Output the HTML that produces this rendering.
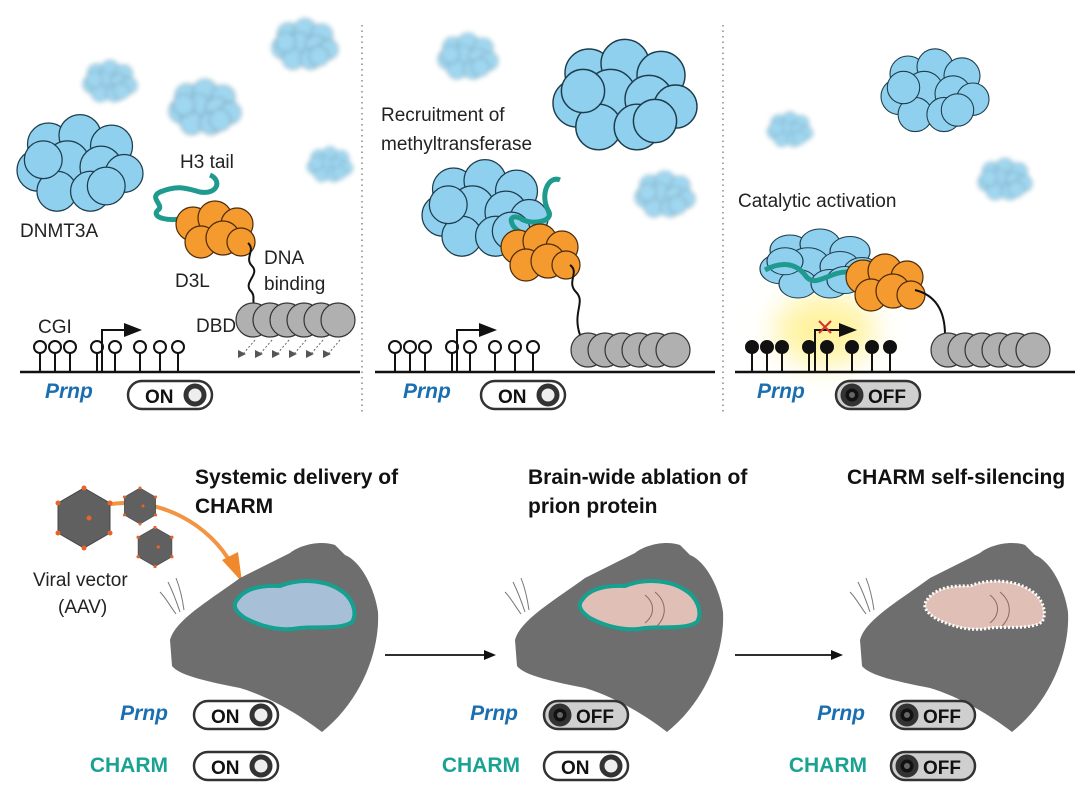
<!DOCTYPE html>
<html><head><meta charset="utf-8"><style>
body{margin:0;background:#fff}
svg{display:block}
text{font-family:"Liberation Sans",sans-serif}
.lb{font-size:19px;fill:#222}
.bt{font-size:21px;font-weight:bold;fill:#111}
.sw{font-size:19px;font-weight:bold;fill:#111}
</style></head><body>
<svg width="1080" height="806" viewBox="0 0 1080 806" xmlns="http://www.w3.org/2000/svg">
<defs>
<filter id="bl" x="-30%" y="-30%" width="160%" height="160%"><feGaussianBlur stdDeviation="2.5"/></filter>
<filter id="gl" x="-50%" y="-50%" width="200%" height="200%"><feGaussianBlur stdDeviation="14"/></filter>
<g id="cl" fill="#8fd0ee" stroke="#1d3d4d" stroke-width="1.2">
<circle cx="-30" cy="-20" r="20"/><circle cx="0" cy="-28" r="20"/><circle cx="30" cy="-18" r="20"/>
<circle cx="-40" cy="5" r="20"/><circle cx="-12" cy="-2" r="21"/><circle cx="20" cy="2" r="20"/><circle cx="42" cy="8" r="18"/>
<circle cx="-22" cy="25" r="19"/><circle cx="10" cy="25" r="19"/><circle cx="-35" cy="-5" r="18"/><circle cx="25" cy="20" r="18"/>
</g>
<g id="or" fill="#f59a2e" stroke="#4a2a08" stroke-width="1.2">
<circle cx="-22" cy="-8" r="17"/><circle cx="0" cy="-14" r="17"/><circle cx="22" cy="-8" r="16"/>
<circle cx="-14" cy="10" r="16"/><circle cx="8" cy="6" r="17"/><circle cx="26" cy="10" r="14"/>
</g>
<g id="dbd" fill="#b0b0b0" stroke="#333" stroke-width="1.2">
<circle cx="0" cy="0" r="17"/><circle cx="17" cy="0" r="17"/><circle cx="34" cy="0" r="17"/><circle cx="51" cy="0" r="17"/><circle cx="68" cy="0" r="17"/><circle cx="85" cy="0" r="17"/>
</g>
<g id="lo" stroke="#111" stroke-width="2" fill="#fff">
<path d="M0 0V-20M15 0V-20M30 0V-20M57 0V-20M75 0V-20M100 0V-20M120 0V-20M138 0V-20" fill="none"/>
<circle cx="0" cy="-25" r="6"/><circle cx="15" cy="-25" r="6"/><circle cx="30" cy="-25" r="6"/><circle cx="57" cy="-25" r="6"/><circle cx="75" cy="-25" r="6"/><circle cx="100" cy="-25" r="6"/><circle cx="120" cy="-25" r="6"/><circle cx="138" cy="-25" r="6"/>
</g>
<g id="on"><rect x="1" y="1" width="84" height="28" rx="14" fill="#fff" stroke="#333" stroke-width="2.5"/><text x="18" y="23" class="sw">ON</text><circle cx="68" cy="15" r="9" fill="#eee" stroke="#333" stroke-width="5"/></g>
<g id="off"><rect x="1" y="1" width="84" height="28" rx="14" fill="#cfcfcf" stroke="#333" stroke-width="2.5"/><circle cx="17" cy="15" r="9" fill="#111" stroke="#333" stroke-width="5"/><circle cx="17" cy="15" r="3" fill="#666"/><text x="33" y="23" class="sw">OFF</text></g>
<g id="ms"><path d="M170 640C175 620 210 600 240 578L290 553C300 545 320 540 335 545L345 555C362 562 375 590 378 612C380 650 362 700 322 732C300 715 270 697 240 688C210 682 180 676 172 666Z" fill="#6e6e6e"/>
<path d="M180 612C176 600 172 590 168 582M184 610C182 596 180 588 176 578M176 614C170 606 166 598 160 592" stroke="#777" stroke-width="1" fill="none"/></g>
<path id="br" d="M237 600C245 588 262 585 280 586C300 578 325 580 340 590C352 597 358 612 352 622C340 630 318 626 300 628C280 632 260 626 245 618C236 612 232 606 237 600Z"/>
<g id="hex"><polygon points="0,-30 26,-15 26,15 0,30 -26,15 -26,-15" fill="#606060" stroke="#444"/><g fill="#e8622a"><circle cx="0" cy="-30" r="2.5"/><circle cx="26" cy="-15" r="2.5"/><circle cx="26" cy="15" r="2.5"/><circle cx="0" cy="30" r="2.5"/><circle cx="-26" cy="15" r="2.5"/><circle cx="-26" cy="-15" r="2.5"/><circle cx="5" cy="0" r="2.5"/></g></g>
</defs>

<!-- dividers -->
<path d="M362 25V415M723 25V415" stroke="#888" stroke-width="1.5" stroke-dasharray="1.5 4"/>

<!-- Panel 1 -->
<g filter="url(#bl)" opacity="0.85">
<use href="#cl" transform="translate(110,82) scale(0.45)"/>
<use href="#cl" transform="translate(205,108) scale(0.6)"/>
<use href="#cl" transform="translate(305,45) scale(0.55)"/>
<use href="#cl" transform="translate(330,165) scale(0.38)"/>
</g>
<use href="#cl" transform="translate(80,165) scale(1.05)"/>
<text x="20" y="237" class="lb">DNMT3A</text>
<text x="180" y="168" class="lb">H3 tail</text>
<path d="M210 175C222 180 218 195 200 192C185 188 178 185 160 192C148 198 165 205 158 210C150 218 170 222 186 218" fill="none" stroke="#1f9a8e" stroke-width="5"/>
<use href="#or" transform="translate(215,232)"/>
<path d="M248 243C256 250 244 258 252 266C260 274 244 282 250 290C256 296 252 300 254 304" fill="none" stroke="#111" stroke-width="2"/>
<text x="175" y="287" class="lb">D3L</text>
<text x="264" y="264" class="lb">DNA</text>
<text x="264" y="290" class="lb">binding</text>
<text x="196" y="332" class="lb">DBD</text>
<use href="#dbd" transform="translate(253,320)"/>
<g stroke="#666" stroke-width="1" stroke-dasharray="2 2" fill="#555">
<path d="M255 340L243 354M272 340L260 354M289 340L277 354M306 340L294 354M323 340L311 354M340 340L328 354"/>
</g>
<g fill="#555"><path d="M238 350l8 4-8 4z M255 350l8 4-8 4z M272 350l8 4-8 4z M289 350l8 4-8 4z M306 350l8 4-8 4z M323 350l8 4-8 4z"/></g>
<text x="38" y="333" class="lb">CGI</text>
<path d="M20 372H360" stroke="#111" stroke-width="2.5"/>
<use href="#lo" transform="translate(40,372)"/>
<path d="M102 372V330H125" stroke="#111" stroke-width="2" fill="none"/><path d="M124 323L142 330L124 337Z" fill="#111"/>
<text x="45" y="398" font-size="21" font-weight="bold" font-style="italic" fill="#1b6fb0">Prnp</text>
<use href="#on" transform="translate(127,380)"/>

<!-- Panel 2 -->
<g filter="url(#bl)" opacity="0.85">
<use href="#cl" transform="translate(468,57) scale(0.5)"/>
<use href="#cl" transform="translate(665,195) scale(0.5)"/>
</g>
<use href="#cl" transform="translate(625,97) scale(1.2)"/>
<text x="381" y="121" class="lb" font-size="20">Recruitment of</text>
<text x="381" y="150" class="lb" font-size="20">methyltransferase</text>
<use href="#cl" transform="translate(485,210) scale(1.05)"/>
<path d="M560 180C548 175 540 195 548 210C556 222 530 226 520 218C505 212 510 232 530 236" fill="none" stroke="#1f9a8e" stroke-width="5"/>
<use href="#or" transform="translate(540,255)"/>
<path d="M570 265C580 272 566 282 576 292C586 302 572 312 580 335" fill="none" stroke="#111" stroke-width="2"/>
<use href="#dbd" transform="translate(588,350)"/>
<path d="M375 372H715" stroke="#111" stroke-width="2.5"/>
<use href="#lo" transform="translate(395,372)"/>
<path d="M457 372V330H480" stroke="#111" stroke-width="2" fill="none"/><path d="M479 323L497 330L479 337Z" fill="#111"/>
<text x="403" y="398" font-size="21" font-weight="bold" font-style="italic" fill="#1b6fb0">Prnp</text>
<use href="#on" transform="translate(480,380)"/>

<!-- Panel 3 -->
<g filter="url(#bl)" opacity="0.85">
<use href="#cl" transform="translate(790,130) scale(0.38)"/>
<use href="#cl" transform="translate(1005,180) scale(0.45)"/>
</g>
<use href="#cl" transform="translate(935,92) scale(0.9)"/>
<text x="738" y="207" class="lb">Catalytic activation</text>
<ellipse cx="825" cy="330" rx="50" ry="35" fill="#fff3a0" filter="url(#gl)"/>
<use href="#cl" transform="translate(820,265) scale(1.0,0.75)"/>
<path d="M765 270C780 262 795 262 805 275C815 290 830 270 850 272" fill="none" stroke="#1f9a8e" stroke-width="5"/>
<use href="#or" transform="translate(885,285)"/>
<path d="M915 290C935 295 945 310 945 335" fill="none" stroke="#111" stroke-width="2"/>
<use href="#dbd" transform="translate(948,350)"/>
<path d="M735 372H1075" stroke="#111" stroke-width="2.5"/>
<g fill="#111"><use href="#lo" transform="translate(752,372)"/></g>
<g fill="#111"><circle cx="752" cy="347" r="6"/><circle cx="767" cy="347" r="6"/><circle cx="782" cy="347" r="6"/><circle cx="809" cy="347" r="6"/><circle cx="827" cy="347" r="6"/><circle cx="852" cy="347" r="6"/><circle cx="872" cy="347" r="6"/><circle cx="890" cy="347" r="6"/></g>
<path d="M815 372V330H840" stroke="#111" stroke-width="2" fill="none"/><path d="M839 323L857 330L839 337Z" fill="#111"/>
<path d="M819 321L831 333M831 321L819 333" stroke="#d9302a" stroke-width="2"/>
<text x="757" y="398" font-size="21" font-weight="bold" font-style="italic" fill="#1b6fb0">Prnp</text>
<use href="#off" transform="translate(835,380)"/>

<!-- Bottom titles -->
<text x="195" y="484" class="bt">Systemic delivery of</text>
<text x="195" y="513" class="bt">CHARM</text>
<text x="528" y="484" class="bt">Brain-wide ablation of</text>
<text x="528" y="513" class="bt">prion protein</text>
<text x="847" y="484" class="bt">CHARM self-silencing</text>

<!-- virus -->
<path d="M105 505C160 495 210 525 232 565" fill="none" stroke="#f0892e" stroke-width="4" opacity="0.9"/>
<path d="M222 560L242 582L238 552Z" fill="#f0892e"/>
<use href="#hex" transform="translate(84,518)"/>
<use href="#hex" transform="translate(140,506) scale(0.6)"/>
<use href="#hex" transform="translate(155,547) scale(0.65)"/>
<text x="33" y="586" class="lb">Viral vector</text>
<text x="58" y="613" class="lb">(AAV)</text>

<!-- mice -->
<use href="#ms"/>
<use href="#br" fill="#a7c0d8" stroke="#16a090" stroke-width="4"/>
<g transform="translate(345,0)"><use href="#ms"/><use href="#br" fill="#e0c0b6" stroke="#16a090" stroke-width="4"/><path d="M300 595c10 8 10 20 0 28M310 592c12 10 12 24 2 34" stroke="#8a6a60" fill="none"/></g>
<g transform="translate(690,0)"><use href="#ms"/><use href="#br" fill="#e0c0b6" stroke="#fff" stroke-width="3" stroke-dasharray="2 2"/><path d="M300 595c10 8 10 20 0 28M310 592c12 10 12 24 2 34" stroke="#8a6a60" fill="none"/></g>

<!-- arrows -->
<path d="M385 655H485M735 655H832" stroke="#111" stroke-width="1.8"/>
<path d="M484 650L496 655L484 660Z M831 650L843 655L831 660Z" fill="#111"/>

<!-- switches bottom -->
<text x="168" y="720" text-anchor="end" font-size="21" font-weight="bold" font-style="italic" fill="#1b6fb0">Prnp</text>
<text x="168" y="772" text-anchor="end" font-size="21" font-weight="bold" fill="#1aa393">CHARM</text>
<use href="#on" transform="translate(193,700)"/><use href="#on" transform="translate(193,751)"/>
<text x="518" y="720" text-anchor="end" font-size="21" font-weight="bold" font-style="italic" fill="#1b6fb0">Prnp</text>
<text x="520" y="772" text-anchor="end" font-size="21" font-weight="bold" fill="#1aa393">CHARM</text>
<use href="#off" transform="translate(543,700)"/><use href="#on" transform="translate(543,751)"/>
<text x="865" y="720" text-anchor="end" font-size="21" font-weight="bold" font-style="italic" fill="#1b6fb0">Prnp</text>
<text x="867" y="772" text-anchor="end" font-size="21" font-weight="bold" fill="#1aa393">CHARM</text>
<use href="#off" transform="translate(890,700)"/><use href="#off" transform="translate(890,751)"/>
</svg>
</body></html>
